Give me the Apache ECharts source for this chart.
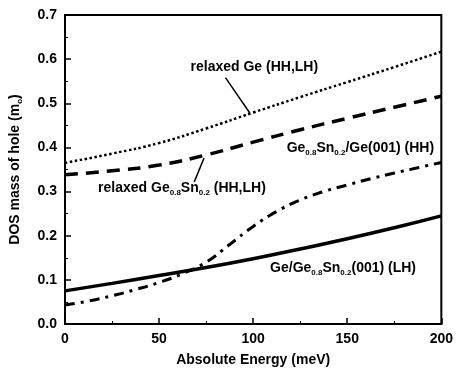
<!DOCTYPE html>
<html>
<head>
<meta charset="utf-8">
<script src="https://cdn.jsdelivr.net/npm/echarts@6/dist/echarts.min.js"></script>
<style>
  html, body { margin: 0; padding: 0; background: #fff; }
  #chart { width: 456px; height: 377px; }
</style>
</head>
<body>
<div id="chart"></div>
<script>
// energy points (meV)
const energy = [0, 25, 50, 75, 100, 125, 150, 175, 200];
const energyFine = [0, 12.5, 25, 37.5, 50, 62.5, 75, 87.5, 100, 112.5, 125, 137.5, 150, 162.5, 175, 187.5, 200];

// DOS mass values
const relaxedGe = [0.365, 0.386, 0.41, 0.443, 0.479, 0.514, 0.548, 0.582, 0.617];
const relaxedGeSn = [0.338, 0.347, 0.36, 0.383, 0.412, 0.44, 0.466, 0.491, 0.516];
const geSnOnGeHH = [0.043, 0.052, 0.064, 0.078, 0.094, 0.114, 0.14, 0.18, 0.221, 0.255, 0.281, 0.3, 0.315, 0.329, 0.342, 0.354, 0.366];
const geOnGeSnLH = [0.075, 0.092, 0.11, 0.128, 0.148, 0.17, 0.193, 0.218, 0.245];

const FONT = 'Liberation Sans';

const el = document.getElementById('chart');
const chart = echarts.init(el, null, { renderer: 'canvas' });

function pairs(xs, ys) {
  return xs.map((x, i) => [x, ys[i]]);
}

function lineSeries(name, data, lineStyle) {
  return {
    name,
    type: 'line',
    data,
    smooth: 0.5,
    symbol: 'none',
    lineStyle: Object.assign({ color: '#000' }, lineStyle),
    z: 3
  };
}

const subRich = {
  t: { fontFamily: FONT, fontWeight: 'bold', fontSize: 14, color: '#000' },
  s: { fontFamily: FONT, fontWeight: 'bold', fontSize: 8, color: '#000', padding: [10, 0, 0, 0] }
};

chart.setOption({
  animation: false,
  backgroundColor: '#fff',
  grid: {
    left: 58, right: 11, top: 15, bottom: 53,
    show: true, borderColor: '#000', borderWidth: 2, backgroundColor: 'transparent'
  },
  xAxis: {
    type: 'value',
    min: 0, max: 200, interval: 50,
    name: 'Absolute Energy (meV)',
    nameLocation: 'middle',
    nameGap: 29,
    nameTextStyle: { fontFamily: FONT, fontWeight: 'bold', fontSize: 14, color: '#000' },
    axisLine: { lineStyle: { color: '#000', width: 2 } },
    axisTick: { inside: true, length: 6, lineStyle: { color: '#000', width: 1.5 } },
    minorTick: { show: true, splitNumber: 2, length: 3, lineStyle: { color: '#000' } },
    splitLine: { show: false },
    axisLabel: { fontFamily: FONT, fontWeight: 'bold', fontSize: 14, color: '#000', margin: 8 }
  },
  yAxis: {
    type: 'value',
    min: 0, max: 0.7, interval: 0.1,
    name: '{t|DOS mass of hole (m}{s|o}{t|)}',
    nameLocation: 'middle',
    nameGap: 41,
    nameTextStyle: { rich: subRich },
    axisLine: { show: true, lineStyle: { color: '#000', width: 2 } },
    axisTick: { inside: true, length: 6, lineStyle: { color: '#000', width: 1.5 } },
    minorTick: { show: true, splitNumber: 2, length: 3, lineStyle: { color: '#000' } },
    splitLine: { show: false },
    axisLabel: {
      fontFamily: FONT, fontWeight: 'bold', fontSize: 14, color: '#000', margin: 8,
      formatter: v => v.toFixed(1)
    }
  },
  series: [
    lineSeries('relaxed Ge (HH,LH)', pairs(energy, relaxedGe), { width: 2.5, type: [2.5, 2.5] }),
    lineSeries('relaxed Ge0.8Sn0.2 (HH,LH)', pairs(energy, relaxedGeSn), { width: 3.5, type: [13, 8] }),
    lineSeries('Ge0.8Sn0.2/Ge(001) (HH)', pairs(energyFine, geSnOnGeHH), { width: 3, type: [10, 6, 3, 6] }),
    lineSeries('Ge/Ge0.8Sn0.2(001) (LH)', pairs(energy, geOnGeSnLH), { width: 3.5 })
  ]
});

// annotations, placed in data coordinates
const labels = [
  { at: [66.7, 0.583], text: '{t|relaxed Ge (HH,LH)}' },
  { at: [17.6, 0.308], text: '{t|relaxed Ge}{s|0.8}{t|Sn}{s|0.2}{t| (HH,LH)}' },
  { at: [117.8, 0.399], text: '{t|Ge}{s|0.8}{t|Sn}{s|0.2}{t|/Ge(001) (HH)}' },
  { at: [109, 0.127], text: '{t|Ge/Ge}{s|0.8}{t|Sn}{s|0.2}{t|(001) (LH)}' }
];
const leaders = [
  [[85.3, 0.558], [98.2, 0.478]],
  [[73.9, 0.376], [68.7, 0.322]]
];

const graphics = [];
labels.forEach(l => {
  const p = chart.convertToPixel({ gridIndex: 0 }, l.at);
  graphics.push({
    type: 'text',
    x: p[0], y: p[1],
    style: { text: l.text, rich: subRich, verticalAlign: 'middle', align: 'left' },
    z: 10
  });
});
leaders.forEach(seg => {
  const a = chart.convertToPixel({ gridIndex: 0 }, seg[0]);
  const b = chart.convertToPixel({ gridIndex: 0 }, seg[1]);
  graphics.push({
    type: 'line',
    shape: { x1: a[0], y1: a[1], x2: b[0], y2: b[1] },
    style: { stroke: '#000', lineWidth: 1.5 },
    z: 10
  });
});
chart.setOption({ graphic: graphics });
</script>
</body>
</html>
